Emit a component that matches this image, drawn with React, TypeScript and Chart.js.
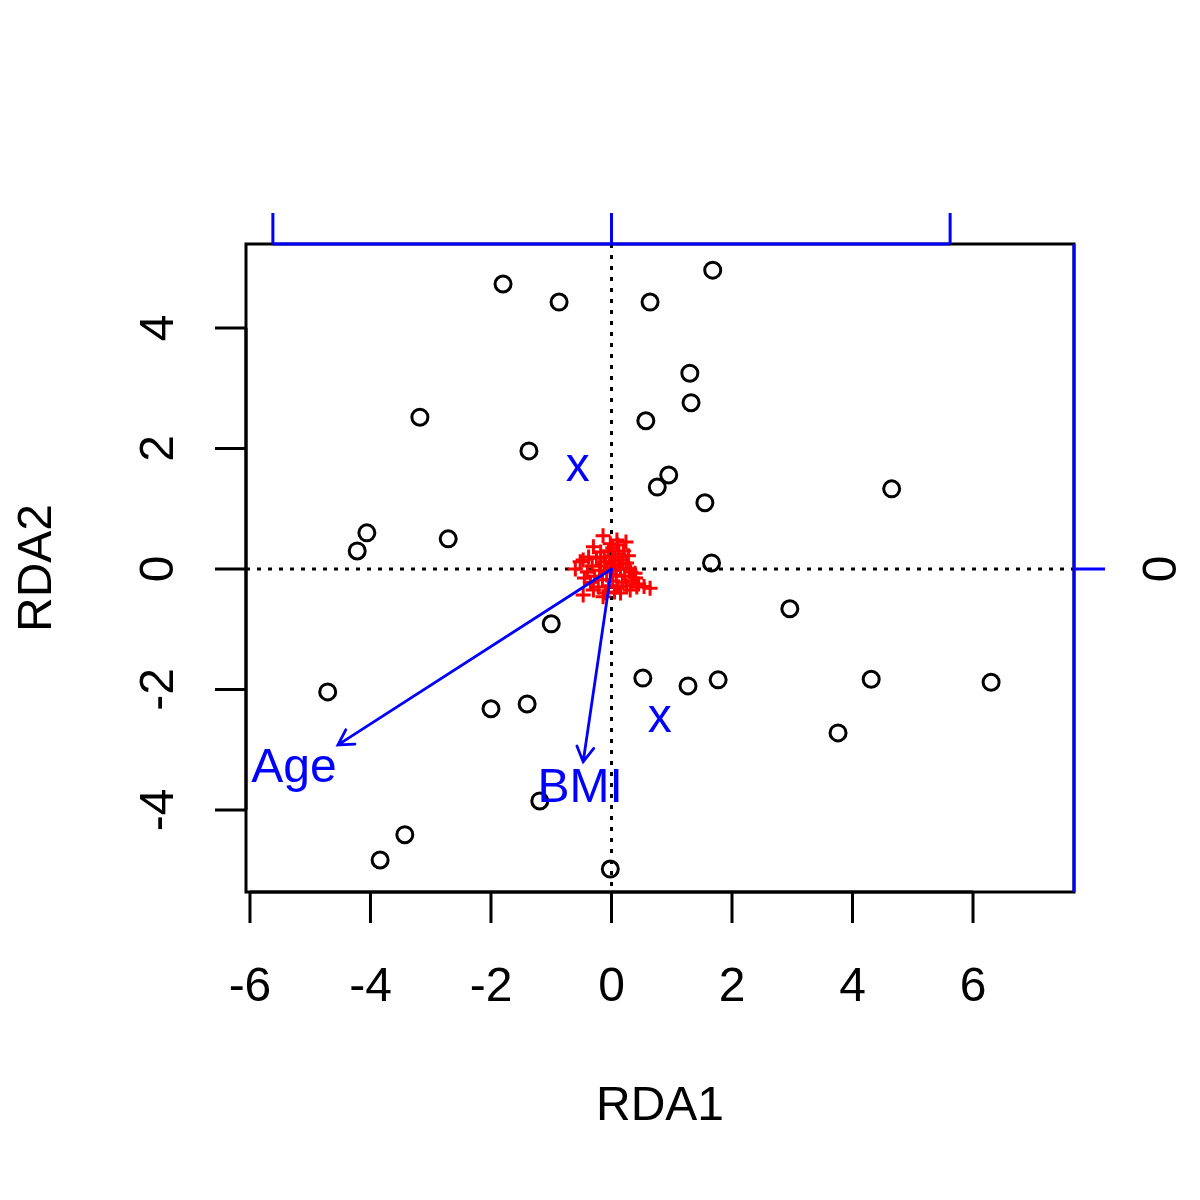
import React, { useEffect, useRef } from "react";
import { Chart, registerables } from "chart.js";

Chart.register(...registerables);

// Site scores (black circles)
const siteX = [-1.80, -0.87, 0.64, 1.68, 1.30, 1.32, -3.18, 0.57, -1.37, 0.95, 0.76, 1.55, 4.65, -4.06, -4.22, -2.71, 1.66, 2.96, -1.00, -4.71, -2.00, -1.40, 0.52, 1.27, 1.77, 4.31, 6.30, 3.76, -1.19, -3.43, -3.84, -0.02];
const siteY = [4.73, 4.43, 4.43, 4.96, 3.25, 2.76, 2.52, 2.46, 1.96, 1.56, 1.36, 1.10, 1.33, 0.60, 0.30, 0.50, 0.10, -0.66, -0.91, -2.04, -2.32, -2.24, -1.81, -1.94, -1.84, -1.83, -1.88, -2.72, -3.85, -4.41, -4.83, -4.98];

// Species scores (red crosses)
const speciesX = [-0.14, 0.09, 0.24, -0.30, -0.47, -0.60, -0.47, -0.14, 0.31, 0.54, 0.64, 0.39, -0.52,
  -0.05, 0.02, -0.18, 0.12, -0.25, 0.05, 0.18, -0.10, 0.25, -0.32, 0.00, 0.15, -0.20, 0.30, -0.08, 0.08,
  0.22, -0.28, -0.15, 0.02, 0.18, -0.35, 0.35, -0.05, 0.10, -0.22, 0.25, 0.05, -0.30, 0.40, 0.45, -0.40,
  -0.12, 0.10, -0.02, 0.20, 0.28, -0.38, -0.45, 0.03, -0.02, 0.12, 0.32, -0.10, 0.15, 0.42, -0.18, 0.06];
const speciesY = [0.55, 0.48, 0.45, 0.37, 0.15, 0.00, -0.43, -0.46, -0.35, -0.29, -0.32, -0.07, 0.12,
  0.30, 0.35, 0.28, 0.25, 0.18, 0.20, 0.15, 0.12, 0.10, 0.05, 0.08, 0.02, -0.02, 0.00, -0.05, -0.10,
  -0.12, -0.12, -0.18, -0.20, -0.22, -0.22, -0.20, -0.28, -0.30, -0.30, -0.28, -0.38, -0.35, -0.15, -0.25, -0.05,
  0.20, 0.40, 0.42, 0.30, 0.22, 0.20, -0.15, -0.02, 0.02, 0.08, -0.05, -0.40, -0.40, -0.30, 0.05, 0.14];

// Environmental vectors (biplot arrows)
const vectorNames = ["Age", "BMI"];
const vectorX = [-4.54, -0.47];
const vectorY = [-2.92, -3.20];
const vectorLabelX = [-5.27, -0.52];
const vectorLabelY = [-3.32, -3.65];

// Centroids (labelled "x")
const centroidNames = ["x", "x"];
const centroidX = [-0.56, 0.80];
const centroidY = [1.68, -2.48];

// Axis ticks
const bottomTicks = [-6, -4, -2, 0, 2, 4, 6];
const leftTicks = [-4, -2, 0, 2, 4];
const speciesAxisTicks = [-5.62, 0, 5.62];
const rightTickLabels = ["", "0", ""];

const X_MIN = -6.066;
const X_MAX = 7.676;
const Y_MIN = -5.361;
const Y_MAX = 5.394;

const FONT = '48px "Liberation Sans", Arial, Helvetica, sans-serif';
const LW = 3;

const overlayPlugin = {
  id: "rdaOverlay",
  beforeDatasetsDraw(chart: any) {
    const { ctx, chartArea: a, scales } = chart;
    const xs = scales.x;
    const ys = scales.y;
    ctx.save();
    ctx.strokeStyle = "#000";
    ctx.lineWidth = LW;
    ctx.setLineDash([4, 7]);
    const x0 = xs.getPixelForValue(0);
    const y0 = ys.getPixelForValue(0);
    ctx.beginPath();
    ctx.moveTo(a.left, y0);
    ctx.lineTo(a.right, y0);
    ctx.stroke();
    ctx.beginPath();
    ctx.moveTo(x0, a.top);
    ctx.lineTo(x0, a.bottom);
    ctx.stroke();
    ctx.restore();
  },
  afterDatasetsDraw(chart: any) {
    const { ctx, chartArea: a, scales } = chart;
    const xs = scales.x;
    const ys = scales.y;
    const px = (v: number) => xs.getPixelForValue(v);
    const py = (v: number) => ys.getPixelForValue(v);
    ctx.save();

    // arrows
    ctx.strokeStyle = "#0000FF";
    ctx.lineWidth = 2.8;
    ctx.setLineDash([]);
    ctx.lineCap = "round";
    const ox = px(0);
    const oy = py(0);
    for (let i = 0; i < vectorX.length; i++) {
      const ex = px(vectorX[i]);
      const ey = py(vectorY[i]);
      const ang = Math.atan2(ey - oy, ex - ox);
      const hl = 17;
      const ha = Math.PI / 6;
      ctx.beginPath();
      ctx.moveTo(ox, oy);
      ctx.lineTo(ex, ey);
      ctx.moveTo(ex - hl * Math.cos(ang - ha), ey - hl * Math.sin(ang - ha));
      ctx.lineTo(ex, ey);
      ctx.lineTo(ex - hl * Math.cos(ang + ha), ey - hl * Math.sin(ang + ha));
      ctx.stroke();
    }
    ctx.lineCap = "butt";

    // labels
    ctx.fillStyle = "#0000FF";
    ctx.font = FONT;
    ctx.textAlign = "center";
    ctx.textBaseline = "middle";
    for (let i = 0; i < vectorNames.length; i++) {
      ctx.fillText(vectorNames[i], px(vectorLabelX[i]), py(vectorLabelY[i]));
    }
    for (let i = 0; i < centroidNames.length; i++) {
      ctx.fillText(centroidNames[i], px(centroidX[i]), py(centroidY[i]));
    }

    // box
    ctx.strokeStyle = "#000";
    ctx.lineWidth = LW;
    ctx.strokeRect(a.left, a.top, a.right - a.left, a.bottom - a.top);

    const tl = 31;
    // bottom axis
    ctx.beginPath();
    ctx.moveTo(px(bottomTicks[0]), a.bottom);
    ctx.lineTo(px(bottomTicks[bottomTicks.length - 1]), a.bottom);
    for (const t of bottomTicks) {
      ctx.moveTo(px(t), a.bottom);
      ctx.lineTo(px(t), a.bottom + tl);
    }
    // left axis
    ctx.moveTo(a.left, py(leftTicks[0]));
    ctx.lineTo(a.left, py(leftTicks[leftTicks.length - 1]));
    for (const t of leftTicks) {
      ctx.moveTo(a.left, py(t));
      ctx.lineTo(a.left - tl, py(t));
    }
    ctx.stroke();

    ctx.fillStyle = "#000";
    ctx.textAlign = "center";
    ctx.textBaseline = "middle";
    for (const t of bottomTicks) {
      ctx.fillText(String(t), px(t), a.bottom + 96);
    }
    for (const t of leftTicks) {
      ctx.save();
      ctx.translate(a.left - 86, py(t));
      ctx.rotate(-Math.PI / 2);
      ctx.fillText(String(t), 0, 0);
      ctx.restore();
    }
    // axis titles
    ctx.fillText("RDA1", (a.left + a.right) / 2, 1107);
    ctx.save();
    ctx.translate(38, (a.top + a.bottom) / 2);
    ctx.rotate(-Math.PI / 2);
    ctx.fillText("RDA2", 0, 0);
    ctx.restore();

    // top species axis (blue)
    ctx.strokeStyle = "#0000FF";
    const inX = speciesAxisTicks.filter((t) => t >= X_MIN && t <= X_MAX);
    ctx.beginPath();
    ctx.moveTo(px(Math.max(speciesAxisTicks[0], X_MIN)), a.top);
    ctx.lineTo(px(Math.min(speciesAxisTicks[speciesAxisTicks.length - 1], X_MAX)), a.top);
    for (const t of inX) {
      ctx.moveTo(px(t), a.top);
      ctx.lineTo(px(t), a.top - tl);
    }
    // right species axis (blue)
    const inY = speciesAxisTicks.filter((t) => t >= Y_MIN && t <= Y_MAX);
    ctx.moveTo(a.right, py(Math.max(speciesAxisTicks[0], Y_MIN)));
    ctx.lineTo(a.right, py(Math.min(speciesAxisTicks[speciesAxisTicks.length - 1], Y_MAX)));
    for (const t of inY) {
      ctx.moveTo(a.right, py(t));
      ctx.lineTo(a.right + tl, py(t));
    }
    ctx.stroke();

    ctx.fillStyle = "#000";
    speciesAxisTicks.forEach((t, i) => {
      if (t < Y_MIN || t > Y_MAX || !rightTickLabels[i]) return;
      ctx.save();
      ctx.translate(a.right + 89, py(t));
      ctx.rotate(-Math.PI / 2);
      ctx.fillText(rightTickLabels[i], 0, 0);
      ctx.restore();
    });

    ctx.restore();
  },
};

export default function App() {
  const canvasRef = useRef<HTMLCanvasElement | null>(null);

  useEffect(() => {
    const canvas = canvasRef.current;
    if (!canvas) return;
    const sites = siteX.map((x, i) => ({ x, y: siteY[i] }));
    const species = speciesX.map((x, i) => ({ x, y: speciesY[i] }));
    const chart = new Chart(canvas, {
      type: "scatter",
      data: {
        datasets: [
          {
            label: "species",
            data: species,
            pointStyle: "cross",
            pointRadius: 7.5,
            pointBorderColor: "#FF0000",
            pointBackgroundColor: "#FF0000",
            pointBorderWidth: 3,
            borderColor: "#FF0000",
            backgroundColor: "#FF0000",
            borderWidth: 3,
          },
          {
            label: "sites",
            data: sites,
            pointStyle: "circle",
            pointRadius: 8,
            pointBorderColor: "#000000",
            pointBackgroundColor: "rgba(0,0,0,0)",
            pointBorderWidth: 3,
            borderColor: "#000000",
            backgroundColor: "rgba(0,0,0,0)",
            borderWidth: 3,
          },
        ],
      },
      options: {
        responsive: false,
        animation: false,
        maintainAspectRatio: false,
        layout: { padding: { left: 246, right: 126, top: 244, bottom: 308 } },
        scales: {
          x: { type: "linear", min: X_MIN, max: X_MAX, display: false },
          y: { type: "linear", min: Y_MIN, max: Y_MAX, display: false },
        },
        plugins: {
          legend: { display: false },
          tooltip: { enabled: false },
        },
      },
      plugins: [overlayPlugin],
    });
    return () => chart.destroy();
  }, []);

  return (
    <div style={{ position: "absolute", left: 0, top: 0, width: 1200, height: 1200, background: "#fff" }}>
      <canvas ref={canvasRef} width={1200} height={1200} style={{ width: 1200, height: 1200 }} />
    </div>
  );
}
